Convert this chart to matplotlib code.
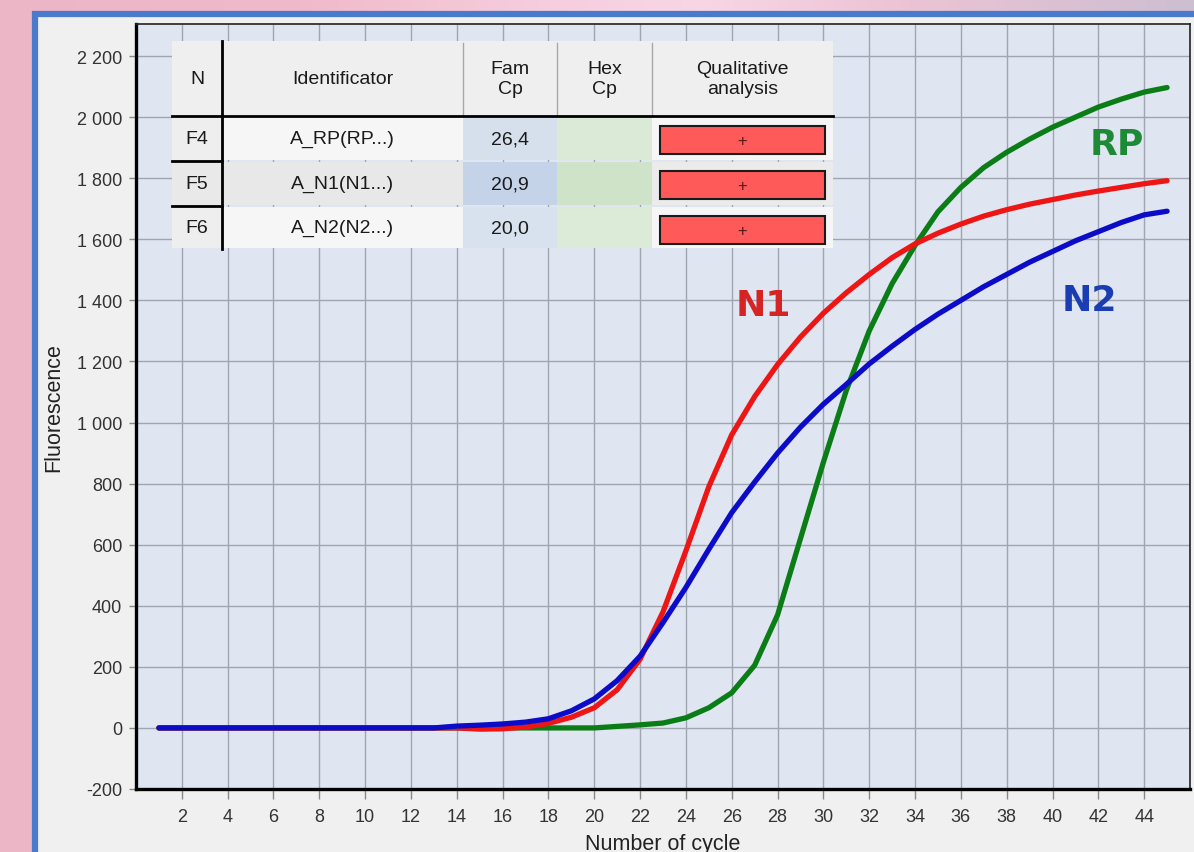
import matplotlib
matplotlib.use("Agg")
import matplotlib.pyplot as plt
import numpy as np
from matplotlib.patches import Rectangle
from matplotlib.ticker import FuncFormatter

# ------------ data ------------
cycles = list(range(1, 46))

# RP (green), N1 (red), N2 (blue) fluorescence per cycle
rp = [0] * 20 + [5, 10, 16, 33, 66, 115, 205, 370, 620, 870,
                 1105, 1300, 1455, 1580, 1690, 1770, 1835, 1885, 1928, 1967,
                 2000, 2033, 2059, 2082, 2097]
n1 = [0] * 14 + [-4, -3, 3, 15, 35, 66, 125, 225, 380, 580,
                 790, 960, 1085, 1190, 1280, 1358, 1425, 1485, 1540, 1585,
                 1620, 1650, 1676, 1697, 1715, 1730, 1745, 1758, 1770, 1782,
                 1792]
n2 = [0] * 13 + [6, 9, 13, 19, 30, 56, 95, 155, 235, 345,
                 460, 585, 705, 805, 900, 985, 1060, 1125, 1192, 1250,
                 1305, 1355, 1400, 1445, 1485, 1525, 1560, 1595, 1625, 1655,
                 1680, 1692]

# table contents
table_header = ["N", "Identificator", "Fam\nCp", "Hex\nCp", "Qualitative\nanalysis"]
wells = ["F4", "F5", "F6"]
identifiers = ["A_RP(RP...)", "A_N1(N1...)", "A_N2(N2...)"]
fam_cp = ["26,4", "20,9", "20,0"]
hex_cp = ["", "", ""]
qualitative = ["+", "+", "+"]

UI_FONT = "Liberation Sans"

# ------------ figure & background ------------
W, H = 1194, 853
fig = plt.figure(figsize=(W / 100, H / 100), dpi=100)

bg = fig.add_axes([0, 0, 1, 1], zorder=-5)
bg.set_xlim(0, W)
bg.set_ylim(H, 0)
bg.axis("off")
# pink backdrop, lighter towards the middle of the top strip
xs = np.arange(W)
keys = [0, 300, 550, 700, 900, W]
cols = np.array([[236, 182, 198], [240, 186, 202], [246, 206, 222],
                 [248, 214, 230], [236, 196, 212], [205, 190, 210]]) / 255
grad = np.stack([np.interp(xs, keys, cols[:, k]) for k in range(3)], axis=-1)
bg.imshow(grad[None, :, :], extent=(0, W, H, 0), aspect="auto")
bg.add_patch(Rectangle((35, 15), W, H, facecolor="#f0f0f0", edgecolor="#4a7acb", lw=4.5))

# ------------ main plot ------------
ax = fig.add_axes([136 / W, 1 - 790 / H, (1190 - 136) / W, (790 - 25) / H], zorder=0)
ax.set_facecolor("#dfe5f1")

line_kw = dict(lw=3.8, solid_capstyle="round", solid_joinstyle="round")
ax.plot(cycles, rp, color="#0b7d16", zorder=3, **line_kw)
ax.plot(cycles, n1, color="#ee1515", zorder=4, **line_kw)
ax.plot(cycles, n2, color="#0c0cc8", zorder=5, **line_kw)

lbl_kw = dict(fontsize=26, fontweight="bold", ha="center", va="center", zorder=6)
ax.text(27.4, 1386, "N1", color="#d42424", **lbl_kw)
ax.text(42.8, 1911, "RP", color="#1f8a35", **lbl_kw)
ax.text(41.6, 1402, "N2", color="#1a3db4", **lbl_kw)

ax.set_xlim(0, 46)
ax.set_ylim(-200, 2305)
ax.set_xticks(range(2, 45, 2))
ax.set_yticks(range(-200, 2201, 200))
ax.yaxis.set_major_formatter(FuncFormatter(lambda v, p: f"{int(v):,}".replace(",", " ")))

ax.grid(True, color="#a0a6b0", lw=1.0, zorder=1)
ax.set_axisbelow(True)
ax.tick_params(axis="both", colors="#888888", labelcolor="#333333", labelsize=13)
ax.tick_params(axis="x", length=7, width=1, pad=7)
ax.tick_params(axis="y", length=5, width=1, pad=5)
for lab in ax.get_xticklabels() + ax.get_yticklabels():
    lab.set_family(UI_FONT)

for side in ["left", "bottom"]:
    ax.spines[side].set_linewidth(2.4)
    ax.spines[side].set_color("black")
for side in ["top", "right"]:
    ax.spines[side].set_linewidth(1.2)
    ax.spines[side].set_color("#222222")

ax.set_xlabel("Number of cycle", fontsize=15.5, family=UI_FONT, color="#222222")
ax.set_ylabel("Fluorescence", fontsize=15.5, family=UI_FONT, color="#222222")
ax.xaxis.set_label_coords(0.5, -0.057)
ax.yaxis.set_label_coords(-0.068, 0.5)

# ------------ result table (overlay in pixel units) ------------
tb = fig.add_axes([0, 0, 1, 1], zorder=5)
tb.set_xlim(0, W)
tb.set_ylim(H, 0)
tb.axis("off")
tb.patch.set_alpha(0)

col_edges = [172, 222, 463, 557, 652, 833]
row_edges = [42, 117, 162, 207, 250]
cell_fill = [
    ["#eeeeee", "#f6f6f6", "#d6e0ed", "#dbead6", "#f6f6f6"],
    ["#e9e9e9", "#e8e8e8", "#c4d3e8", "#cfe3c9", "#ebebeb"],
    ["#eeeeee", "#f6f6f6", "#d8e2ee", "#dcebd8", "#f6f6f6"],
]

def cell_center(r, c):
    return (col_edges[c] + col_edges[c + 1]) / 2, (row_edges[r] + row_edges[r + 1]) / 2

# header
for c, txt in enumerate(table_header):
    x0, x1 = col_edges[c], col_edges[c + 1]
    tb.add_patch(Rectangle((x0, row_edges[0]), x1 - x0, row_edges[1] - row_edges[0],
                           facecolor="#efefef", edgecolor="none"))
    cx, cy = cell_center(0, c)
    tb.text(cx, cy, txt, ha="center", va="center", fontsize=14, family=UI_FONT,
            color="#1a1a1a", linespacing=1.3)
    if c > 1:
        tb.plot([x0, x0], [row_edges[0] + 2, row_edges[1]], color="#a8a8a8", lw=1)

# rows
for r in range(len(wells)):
    values = [wells[r], identifiers[r], fam_cp[r], hex_cp[r]]
    y0, y1 = row_edges[r + 1], row_edges[r + 2]
    for c in range(5):
        x0, x1 = col_edges[c], col_edges[c + 1]
        tb.add_patch(Rectangle((x0, y0 + 1), x1 - x0, y1 - y0 - 2,
                               facecolor=cell_fill[r][c], edgecolor="none"))
        cx, cy = cell_center(r + 1, c)
        if c < 4:
            tb.text(cx, cy, values[c], ha="center", va="center", fontsize=14,
                    family=UI_FONT, color="#1a1a1a")
    # qualitative marker box
    x0 = col_edges[4] + 8
    tb.add_patch(Rectangle((x0, y0 + 10), col_edges[5] - col_edges[4] - 16, 28,
                           facecolor="#ff5a5a", edgecolor="#1a1a1a", lw=1.5))
    tb.text((col_edges[4] + col_edges[5]) / 2, y0 + 24, qualitative[r], ha="center",
            va="center", fontsize=12, family=UI_FONT, color="#5a1a1a")
    if r > 0:
        tb.plot([col_edges[0], col_edges[1]], [y0, y0], color="black", lw=2)

tb.plot([col_edges[0], col_edges[-1]], [row_edges[1], row_edges[1]], color="black", lw=2)
tb.plot([col_edges[1], col_edges[1]], [row_edges[0], row_edges[-1]], color="black", lw=2)

fig.savefig("out.png", dpi=100)
